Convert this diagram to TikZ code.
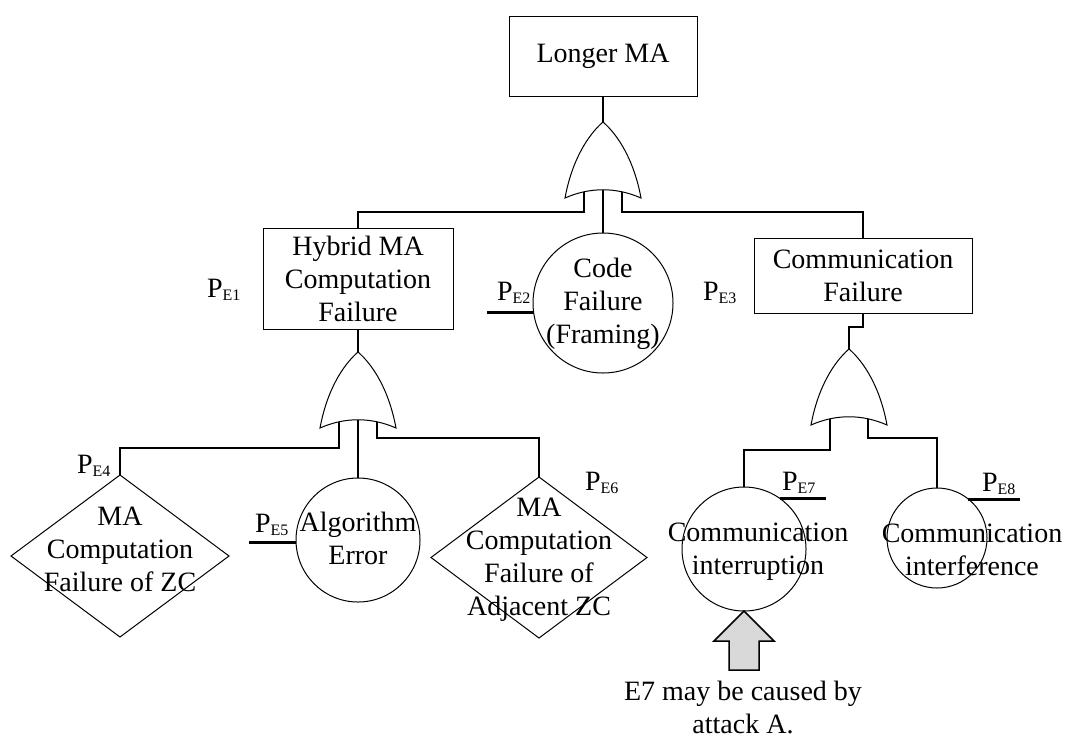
\documentclass[tikz,border=0pt]{standalone}
\usepackage{fontspec}
\setmainfont{Liberation Serif}
\usetikzlibrary{shapes.geometric,calc}
\pgfdeclarelayer{background}
\pgfsetlayers{background,main}
% probability label P_{E#1}
\newcommand\probE[1]{P\raisebox{-3pt}{\fontsize{16}{16}\selectfont E#1}}

\begin{document}
\begin{tikzpicture}[x=1pt,y=-1pt,
  every node/.style={font=\fontsize{28}{33}\selectfont, inner sep=0pt, outer sep=0pt},
  conn/.style={line width=2.9pt, line join=miter},
  outline/.style={draw, line width=1pt},
  eventbox/.style={outline, rectangle, align=center},
  basic/.style={outline, circle},
  undev/.style={outline, diamond},
  lbl/.style={align=center},
  prob/.style={anchor=base west},
  attackarrow/.style={draw, line width=1.5pt, fill=black!15, line join=miter},
  orgate/.pic={
    \path[draw, fill=white, line width=1pt]
      (-38,76) .. controls (-31,38) and (-15,13) .. (0,0)
      .. controls (15,13) and (31,38) .. (38,76)
      .. controls (13,65) and (-13,65) .. (-38,76) -- cycle;
    \coordinate (-tip) at (0,0);
    \coordinate (-in1) at (-19,45);
    \coordinate (-in2) at (0,45);
    \coordinate (-in3) at (19,45);
  }
]
\useasboundingbox (0,0) rectangle (1067,740);

% events
\node[eventbox, minimum width=188pt, minimum height=80pt] (lma) at (603,56) {Longer MA};
\node[eventbox, minimum width=190pt, minimum height=101pt] (hyb) at (358,278.5) {Hybrid MA\\Computation\\Failure};
\node[eventbox, minimum width=218pt, minimum height=75pt] (cf) at (863,275.5) {Communication\\Failure};

\node[basic, minimum size=140pt] (code) at (603,303) {};
\node[lbl] (tcode) at (603,304) {Code\\Failure\\(Framing)};
\node[basic, minimum size=124pt] (alg) at (358,540) {};
\node[lbl] (talg) at (358,538) {Algorithm\\Error};
\node[undev, minimum width=218pt, minimum height=162pt] (d1) at (120,556) {};
\node[lbl] (td1) at (120,549) {MA\\Computation\\Failure of ZC};
\node[undev, minimum width=216pt, minimum height=161pt] (d2) at (539,557.5) {};
\node[lbl] (td2) at (539,559.5) {MA\\Computation\\Failure of\\Adjacent ZC};
\node[basic, minimum size=124pt] (ci) at (744,549) {};
\node[lbl] (tci) at (758,552) {Communication\\interruption};
\node[basic, minimum size=100pt] (cif) at (937,538) {};
\node[lbl] (tcif) at (972,550) {Communication\\interference};

% OR gates
\pic (g1) at (603,122) {orgate};
\pic (g2) at (358,352) {orgate};
\pic (g3) at (849,349) {orgate};

% probability labels
\node[prob] (p1) at (207,297) {\probE{1}};
\node[prob] (p2) at (497,300) {\probE{2}};
\node[prob] (p3) at (703,300) {\probE{3}};
\node[prob] (p4) at (77,473) {\probE{4}};
\node[prob] (p5) at (255,532) {\probE{5}};
\node[prob] (p6) at (585,490) {\probE{6}};
\node[prob] (p7) at (782,490) {\probE{7}};
\node[prob] (p8) at (982,491) {\probE{8}};

\coordinate (u2) at (487,313);
\coordinate (u5) at (249,542);
\coordinate (u7) at (826,498);
\coordinate (u8) at (1020,499);

% connectors
\begin{pgfonlayer}{background}
\draw[conn] (lma.south) -- (g1-tip);
\draw[conn] (g1-in1) |- (hyb.north |- 0,212) -- (hyb.north);
\draw[conn] (g1-in2) -- (code.north);
\draw[conn] (g1-in3) |- (cf.north |- 0,212) -- (cf.north);
\draw[conn] (hyb.south) -- (g2-tip);
\draw[conn] (g2-in1) |- (d1.north |- 0,448) -- (d1.north);
\draw[conn] (g2-in2) -- (alg.north);
\draw[conn] (g2-in3) |- (d2.north |- 0,438) -- (d2.north);
\draw[conn] (cf.south) -- (cf.south |- 0,327) -| (g3-tip);
\draw[conn] (g3-in1) |- (ci.north |- 0,450) -- (ci.north);
\draw[conn] (g3-in3) |- (cif.north |- 0,438) -- (cif.north);
\end{pgfonlayer}

% underlines of probability labels
\draw[conn] (code.188) -- (code.188 -| u2);
\draw[conn] (alg.182) -- (alg.182 -| u5);
\draw[conn] (ci.55.5) -- (ci.55.5 -| u7);
\draw[conn] (cif.51.5) -- (cif.51.5 -| u8);

% attack arrow and its note
\draw[attackarrow] (ci.south) -- ++(30,30) -- ++(-15,0) -- ++(0,29) -- ++(-30,0)
  -- ++(0,-29) -- ++(-15,0) -- cycle;
\node[lbl] (note) at (743,707) {E7 may be caused by\\attack A.};
\end{tikzpicture}
\end{document}
